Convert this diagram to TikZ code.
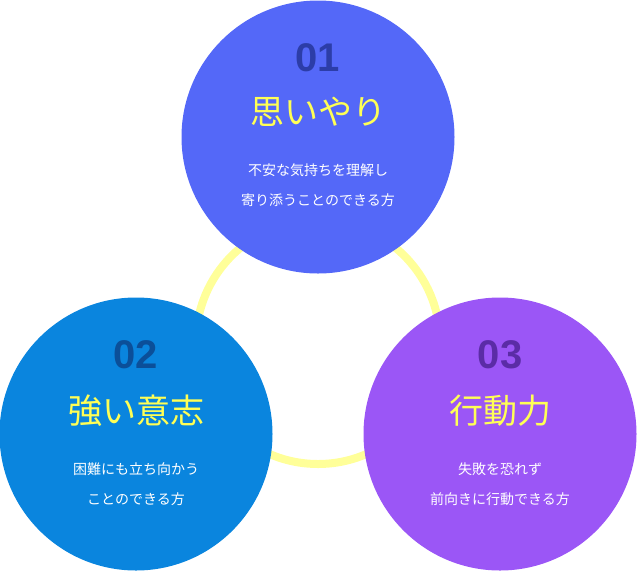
\documentclass[tikz,border=0pt]{standalone}
\usepackage{fontspec}
\setmainfont{Liberation Sans}
\newfontfamily\jp{Noto Sans CJK JP}
\newfontfamily\numf{Liberation Sans}
\definecolor{cA}{HTML}{5468F8}
\definecolor{cB}{HTML}{0A85DE}
\definecolor{cC}{HTML}{9B56F6}
\definecolor{nA}{HTML}{2C3DA8}
\definecolor{nB}{HTML}{0B4F99}
\definecolor{nC}{HTML}{5B2CA6}
\definecolor{ring}{HTML}{FFFF99}
\definecolor{ttl}{HTML}{FFFF55}
\begin{document}
\begin{tikzpicture}[x=1pt,y=-1pt,
  circ/.style={circle,minimum size=273pt,inner sep=0pt},
  num/.style={font=\numf\bfseries\fontsize{40}{40}\selectfont},
  ttl/.style={text=ttl,font=\jp\fontsize{34}{34}\selectfont},
  body/.style={text=white,align=center,font=\jp\fontsize{14}{30}\selectfont}]
\useasboundingbox (0,0) rectangle (637,571);
\draw[ring,line width=8pt] (318,342) circle (122);
\node[circ,fill=cA] (c1) at (318,137) {};
\node[circ,fill=cB] (c2) at (136,434) {};
\node[circ,fill=cC] (c3) at (500,434) {};
\node[num,text=nA] (n1) at (318,58) {01};
\node[ttl] (t1) at (318,112) {思いやり};
\node[body] (b1) at (318,185) {不安な気持ちを理解し\\寄り添うことのできる方};
\node[num,text=nB] (n2) at (136,355) {02};
\node[ttl] (t2) at (136,411) {強い意志};
\node[body] (b2) at (136,484) {困難にも立ち向かう\\ことのできる方};
\node[num,text=nC] (n3) at (500,355) {03};
\node[ttl] (t3) at (500,411) {行動力};
\node[body] (b3) at (500,484) {失敗を恐れず\\前向きに行動できる方};
\end{tikzpicture}
\end{document}
